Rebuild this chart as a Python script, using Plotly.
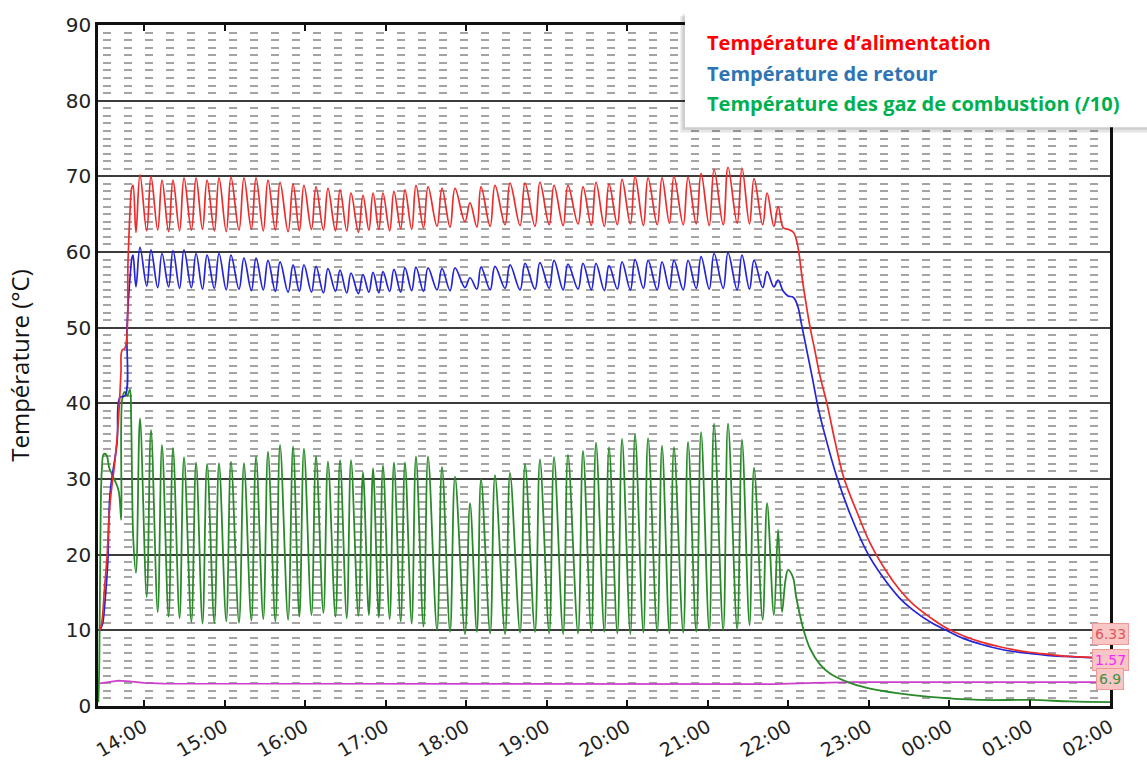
import plotly.graph_objects as go

# ---------------- data (time in minutes after 14:00) ----------------
tick_labels = ["14:00", "15:00", "16:00", "17:00", "18:00", "19:00", "20:00",
               "21:00", "22:00", "23:00", "00:00", "01:00", "02:00"]

# start-up phase
red_start_t = [-33.0, -31.5, -29.5, -27.6, -25.3, -21.6, -19.4, -17.2, -16.4, -14.2, -11.9, -10.4, -9.2, -8.2]
red_start_v = [10.0, 11.0, 15.5, 19.7, 26.8, 32.5, 36.9, 44.0, 47.0, 47.3, 58.9, 65.5, 68.4, 68.8]
blue_start_t = [-33.0, -31.0, -29.0, -27.0, -25.3, -20.1, -17.9, -14.2, -12.7, -10.4, -8.9, -8.2]
blue_start_v = [10.0, 10.8, 14.0, 19.0, 28.1, 34.8, 40.8, 41.0, 50.1, 56.7, 59.3, 59.6]
gas_start_t = [-34.0, -33.3, -32.5, -31.5, -30.0, -28.0, -26.0, -23.5, -19.0, -17.0, -16.3, -14.5, -12.5, -10.5, -9.6, -8.0]
gas_start_v = [0.5, 6.0, 22.0, 31.0, 33.3, 33.2, 31.5, 30.5, 28.5, 24.6, 40.5, 41.5, 41.0, 41.8, 38.0, 22.0]

# burner cycles: burner-on (trough) time and peak time
cycle_on_t = [-6.0, 2.0, 10.2, 18.3, 26.5, 35.3, 43.6, 52.4, 61.3, 70.8, 80.0, 88.9, 97.9, 107.4,
              115.8, 124.8, 133.7, 142.7, 151.1, 159.8, 167.6, 175.0, 183.1, 191.3, 199.5, 208.3,
              218.4, 228.1, 239.2, 248.1, 258.0, 269.1, 280.3, 291.4, 302.0, 312.4, 323.5, 333.4,
              343.1, 352.8, 362.5, 372.2, 382.5, 391.6, 401.9, 411.6, 421.3, 431.7, 442.1, 451.3,
              461.1, 469.5]
cycle_peak_t = [-3.0, 5.2, 13.4, 21.6, 29.8, 38.8, 47.0, 55.9, 64.8, 74.5, 83.5, 92.4, 101.4, 111.1,
                119.2, 128.2, 137.1, 146.1, 154.3, 163.2, 170.7, 178.1, 186.3, 194.5, 202.7, 211.7,
                222.1, 231.8, 243.0, 251.2, 261.6, 272.8, 284.0, 295.1, 305.6, 316.0, 327.2, 336.9,
                346.6, 356.3, 366.0, 375.7, 386.1, 395.0, 405.5, 415.2, 424.9, 435.3, 445.7, 454.7,
                464.4, 472.6]

red_low = [62.6, 62.8, 62.9, 62.7, 62.8, 62.9, 63.0, 62.8, 62.7, 62.9, 63.0, 62.8, 62.9, 62.7,
           62.8, 63.0, 62.9, 62.8, 62.8, 62.6, 62.9, 63.0, 62.8, 63.1, 63.0, 63.2, 63.4, 63.3,
           64.0, 63.3, 63.4, 63.6, 63.5, 63.4, 63.6, 63.5, 63.7, 63.5, 63.4, 63.6, 63.7, 63.5,
           63.6, 63.8, 63.6, 63.7, 63.5, 63.6, 63.8, 63.7, 63.6, 63.4]
red_high = [70.2, 70.0, 69.5, 69.5, 69.8, 69.8, 69.5, 69.8, 69.9, 69.8, 69.8, 69.5, 69.2, 69.0,
            68.8, 68.6, 68.4, 68.2, 67.8, 67.5, 67.8, 67.8, 68.0, 68.2, 68.8, 68.6, 68.4, 68.4,
            66.5, 68.6, 68.8, 69.1, 69.1, 69.2, 68.8, 68.8, 68.6, 69.2, 69.0, 69.6, 70.0, 69.8,
            69.8, 70.0, 69.9, 70.4, 70.9, 71.2, 71.1, 69.7, 67.8, 66.0]
blue_low = [55.4, 55.5, 55.3, 55.4, 55.2, 55.3, 55.1, 55.2, 55.0, 55.1, 54.9, 55.0, 54.8, 54.7,
            54.8, 54.7, 54.6, 54.8, 54.6, 54.5, 54.7, 54.6, 54.8, 54.7, 54.9, 54.8, 55.0, 54.9,
            55.3, 55.1, 55.0, 55.2, 55.0, 55.1, 55.2, 55.0, 55.1, 55.0, 54.9, 55.1, 55.0, 55.2,
            55.0, 55.1, 55.0, 55.2, 55.1, 55.2, 55.0, 55.1, 55.3, 55.4]
blue_high = [60.6, 60.3, 59.8, 60.2, 60.3, 59.8, 59.6, 59.8, 59.6, 59.2, 59.2, 58.9, 58.7, 58.3,
             58.3, 58.1, 57.8, 57.6, 57.2, 57.0, 57.3, 57.4, 57.7, 57.9, 58.0, 57.9, 57.8, 57.9,
             56.6, 58.0, 58.1, 58.3, 58.5, 58.6, 58.9, 58.4, 58.5, 58.5, 58.2, 58.7, 59.0, 58.9,
             58.7, 58.9, 58.9, 59.4, 59.8, 59.9, 59.6, 58.9, 57.4, 56.3]
gas_low = [17.6, 14.4, 12.4, 11.8, 11.6, 11.1, 10.9, 11.0, 11.2, 11.0, 11.3, 11.5, 11.2, 11.4,
           11.8, 12.0, 12.3, 11.8, 11.6, 11.9, 12.0, 11.7, 11.5, 11.2, 10.9, 10.5, 10.0, 9.8,
           9.5, 9.8, 9.6, 9.5, 9.7, 9.8, 9.6, 9.5, 9.6, 9.7, 9.8, 9.6, 9.5, 9.7,
           9.8, 9.6, 9.7, 9.8, 9.9, 10.0, 10.1, 10.7, 11.4, 12.0]
gas_high = [38.0, 36.5, 34.5, 34.1, 32.9, 32.2, 32.0, 32.1, 32.3, 32.1, 33.0, 33.6, 34.5, 34.3,
            34.0, 33.0, 32.3, 32.5, 32.5, 30.9, 31.4, 31.8, 32.2, 32.2, 33.0, 33.0, 31.6, 30.3,
            26.8, 30.0, 30.5, 30.8, 32.0, 32.6, 32.9, 33.2, 33.7, 34.8, 34.2, 35.3, 35.9, 35.4,
            34.4, 34.2, 34.9, 36.2, 37.3, 37.3, 35.2, 31.5, 26.8, 23.3]

# cool-down phase
red_end_t = [476.5, 480.0, 484.0, 487.0, 491.0, 496.4, 500.0, 504.0, 509.0, 515.0, 521.0, 526.0, 531.0, 541.0,
             554.0, 563.0, 573.0, 586.0, 598.0, 611.0, 623.0, 636.0, 648.0, 660.0, 673.0, 686.0, 698.0,
             710.0, 719.0]
red_end_v = [63.2, 63.0, 62.6, 61.0, 56.0, 50.1, 47.0, 43.5, 40.0, 35.0, 30.5, 28.0, 25.8, 21.6,
             17.6, 15.4, 13.5, 11.7, 10.3, 9.25, 8.5, 7.9, 7.45, 7.1, 6.85, 6.6, 6.48,
             6.38, 6.33]
blue_end_t = [476.5, 480.0, 484.0, 487.0, 490.0, 494.0, 498.0, 503.0, 508.0, 516.0, 526.0, 539.0, 550.0, 563.0,
              573.0, 586.0, 598.0, 611.0, 623.0, 636.0, 648.0, 660.0, 673.0, 686.0, 698.0, 710.0, 719.0]
blue_end_v = [54.8, 54.2, 54.0, 53.0, 50.5, 47.0, 43.5, 39.0, 35.5, 30.5, 25.5, 20.3, 17.2, 14.3,
              12.7, 11.1, 10.0, 8.9, 8.2, 7.6, 7.2, 6.95, 6.7, 6.55, 6.45, 6.37, 6.33]
gas_end_t = [475.5, 478.0, 480.0, 483.7, 486.0, 488.9, 492.5, 496.4, 503.8, 511.3, 524.0, 538.8,
             561.2, 585.8, 623.1, 660.3, 690.0, 720.0]
gas_end_v = [12.4, 16.5, 18.0, 17.0, 14.5, 12.0, 9.5, 7.6, 5.5, 4.3, 3.2, 2.4,
             1.7, 1.2, 0.8, 0.8, 0.6, 0.5]

# magenta (pump) line
pump_t = [-33.0, -26.0, -19.0, -11.0, 0.0, 15.0, 100.0, 250.0, 400.0, 470.0, 500.0, 530.0, 600.0, 720.0]
pump_v = [3.0, 3.2, 3.35, 3.25, 3.05, 2.95, 2.95, 2.95, 2.95, 2.9, 3.05, 3.15, 3.15, 3.15]

legend_texts = ["Température d’alimentation", "Température de retour",
                "Température des gaz de combustion (/10)"]
end_labels = ["6.33", "1.57", "6.9"]


def build(start_t, start_v, low, high, end_t, end_v):
    t, v = list(start_t), list(start_v)
    for a, b, lo, hi in zip(cycle_on_t, cycle_peak_t, low, high):
        t += [a, b]
        v += [lo, hi]
    return t + list(end_t), v + list(end_v)


red_t, red_v = build(red_start_t, red_start_v, red_low, red_high, red_end_t, red_end_v)
blue_t, blue_v = build(blue_start_t, blue_start_v, blue_low, blue_high, blue_end_t, blue_end_v)
gas_t, gas_v = build(gas_start_t, gas_start_v, gas_low, gas_high, gas_end_t, gas_end_v)

fig = go.Figure()
fig.add_trace(go.Scatter(x=pump_t, y=pump_v, mode="lines", name="pump",
                         line=dict(color="#cc3fcc", width=1.7)))
fig.add_trace(go.Scatter(x=gas_t, y=gas_v, mode="lines", name=legend_texts[2],
                         line=dict(color="#2a8a2a", shape="spline", smoothing=1.0, width=1.8)))
fig.add_trace(go.Scatter(x=blue_t, y=blue_v, mode="lines", name=legend_texts[1],
                         line=dict(color="#2424d8", shape="spline", smoothing=1.1, width=1.7)))
fig.add_trace(go.Scatter(x=red_t, y=red_v, mode="lines", name=legend_texts[0],
                         line=dict(color="#ee2b2b", shape="spline", smoothing=1.1, width=1.7)))

fig.update_layout(
    width=1147, height=760,
    margin=dict(l=98, r=37, t=25, b=54),
    plot_bgcolor="white", paper_bgcolor="white",
    showlegend=False,
    xaxis=dict(
        range=[-34.3, 720], tickmode="array",
        tickvals=[i * 60 for i in range(len(tick_labels))], ticktext=tick_labels,
        tickangle=-30, ticks="inside", ticklen=6, tickwidth=1.5, tickcolor="#111",
        showline=True, linewidth=2.5, linecolor="#111", mirror="ticks",
        showgrid=False, zeroline=False, automargin=False,
        tickfont=dict(family="DejaVu Sans", size=19, color="#222"),
    ),
    yaxis=dict(
        range=[0, 90], tickmode="linear", tick0=0, dtick=10,
        showgrid=True, gridcolor="#3c3c3c", gridwidth=2,
        minor=dict(dtick=1, showgrid=True, gridcolor="#a4a4a4", gridwidth=1.5,
                   griddash="0px,5px,8px,8px"),
        showline=True, linewidth=2.5, linecolor="#111", mirror=True,
        ticks="", zeroline=False, automargin=False,
        tickfont=dict(family="DejaVu Sans", size=20, color="#222"),
        title=dict(text="Température (°C)", standoff=30,
                   font=dict(family="Open Sans", size=24, color="#111")),
    ),
)

# legend box with shadow
fig.add_shape(type="rect", xref="paper", yref="paper", x0=0.5755, x1=1.05, y0=0.842, y1=1.013,
              fillcolor="rgba(0,0,0,0.10)", line=dict(width=0), layer="above")
fig.add_shape(type="rect", xref="paper", yref="paper", x0=0.5775, x1=1.05, y0=0.846, y1=1.016,
              fillcolor="rgba(0,0,0,0.10)", line=dict(width=0), layer="above")
fig.add_shape(type="rect", xref="paper", yref="paper", x0=0.580, x1=1.05, y0=0.850, y1=1.019,
              fillcolor="white", line=dict(width=0), layer="above")

legend_colors = ["#ff0000", "#2e74b5", "#00b050"]
legend_y = [0.975, 0.9295, 0.884]
for txt, col, yy in zip(legend_texts, legend_colors, legend_y):
    fig.add_annotation(xref="paper", yref="paper", x=0.5998, y=yy, xanchor="left", yanchor="middle",
                       text="<b>" + txt + "</b>", showarrow=False,
                       font=dict(family="Open Sans", size=20, color=col))

# end-value labels
end_styles = [(9.5, "#e05555"), (6.1, "#ff22ff"), (3.6, "#3f913f")]
for txt, (yy, col) in zip(end_labels, end_styles):
    fig.add_annotation(xref="paper", yref="y", x=1.0, y=yy, xanchor="center", yanchor="middle",
                       text=txt, showarrow=False, bgcolor="#f9c6c6", bordercolor="#ef9a9a",
                       borderwidth=1, borderpad=2,
                       font=dict(family="DejaVu Sans", size=14, color=col))

fig.write_html("out.html", config={"displayModeBar": False},
               post_script=["document.body.style.margin='0px';document.body.style.overflow='hidden';"])
